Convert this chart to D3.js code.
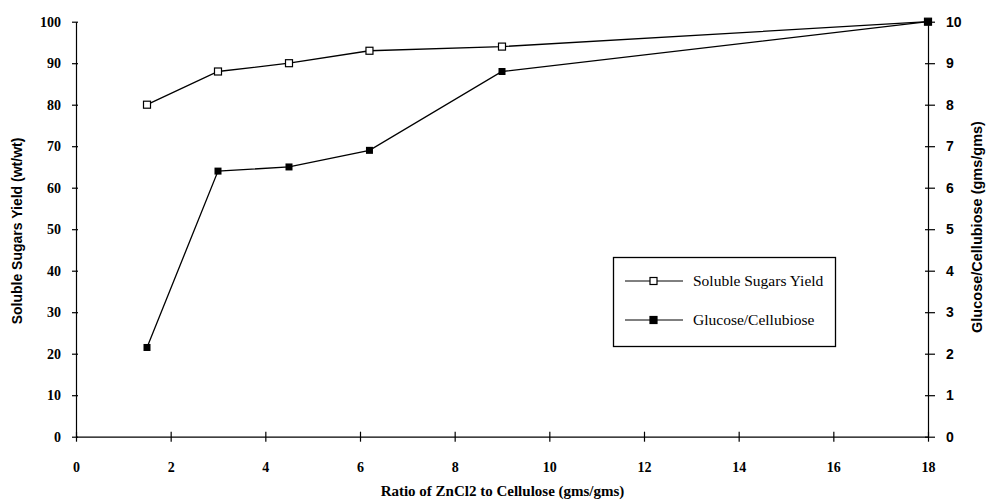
<!DOCTYPE html>
<html>
<head>
<meta charset="utf-8">
<script src="https://cdn.jsdelivr.net/npm/d3@7"></script>
<style>
  body { margin: 0; background: #fff; }
  svg { display: block; }
</style>
</head>
<body>
<div id="chart-area"></div>
<script>
// data
const ratios = [1.5, 3, 4.5, 6.2, 9, 18];
const sugarYield = [80, 88, 90, 93, 94, 100];
const glucoseRatio = [2.15, 6.4, 6.5, 6.9, 8.8, 10];
const xTicks = [0, 2, 4, 6, 8, 10, 12, 14, 16, 18];
const leftTicks = [0, 10, 20, 30, 40, 50, 60, 70, 80, 90, 100];
const rightTicks = [0, 1, 2, 3, 4, 5, 6, 7, 8, 9, 10];
const seriesNames = ["Soluble Sugars Yield", "Glucose/Cellubiose"];

const W = 986, H = 502;
const plotLeft = 76, plotRight = 928, plotTop = 21.7, plotBottom = 436.7;
const serif = "'Liberation Serif', 'DejaVu Serif', serif";
const sans = "'Liberation Sans', Arial, sans-serif";

const svg = d3.select("#chart-area")
	.append("svg")
	.attr("width", W)
	.attr("height", H);

const x = d3.scaleLinear().domain([0, 18]).range([plotLeft, plotRight]);
const yL = d3.scaleLinear().domain([0, 100]).range([plotBottom, plotTop]);
const yR = d3.scaleLinear().domain([0, 10]).range([plotBottom, plotTop]);

// x axis
const xAxis = svg.append("g")
	.attr("transform", `translate(0, ${plotBottom})`)
	.call(d3.axisBottom(x).tickValues(xTicks).tickSizeOuter(0));
xAxis.selectAll(".tick line").attr("y1", -5).attr("y2", 5);
xAxis.selectAll(".tick text")
	.attr("y", 25)
	.attr("font-family", serif)
	.attr("font-weight", "bold")
	.attr("font-size", "14px");

// left axis
const lAxis = svg.append("g")
	.attr("transform", `translate(${plotLeft}, 0)`)
	.call(d3.axisLeft(yL).tickValues(leftTicks).tickSizeOuter(0));
lAxis.selectAll(".tick line").attr("x1", -4).attr("x2", 2);
lAxis.selectAll(".tick text")
	.attr("x", -15)
	.attr("font-family", serif)
	.attr("font-weight", "bold")
	.attr("font-size", "14px");

// right axis
const rAxis = svg.append("g")
	.attr("transform", `translate(${plotRight}, 0)`)
	.call(d3.axisRight(yR).tickValues(rightTicks).tickSizeOuter(0));
rAxis.selectAll(".tick line").attr("x1", -3).attr("x2", 7);
rAxis.selectAll(".tick text")
	.attr("x", 18)
	.attr("font-family", sans)
	.attr("font-weight", "bold")
	.attr("font-size", "14px");

svg.selectAll(".domain").attr("stroke", "#000").attr("stroke-width", 1.2);
svg.selectAll(".tick line").attr("stroke", "#000").attr("stroke-width", 1.2);

// axis titles
svg.append("text")
	.attr("x", 502.5)
	.attr("y", 496)
	.attr("text-anchor", "middle")
	.attr("font-family", serif)
	.attr("font-weight", "bold")
	.attr("font-size", "15px")
	.text("Ratio of ZnCl2 to Cellulose (gms/gms)");

svg.append("text")
	.attr("transform", "translate(22, 231) rotate(-90)")
	.attr("text-anchor", "middle")
	.attr("font-family", sans)
	.attr("font-weight", "bold")
	.attr("font-size", "14px")
	.text("Soluble Sugars Yield (wt/wt)");

svg.append("text")
	.attr("transform", "translate(982, 227) rotate(-90)")
	.attr("text-anchor", "middle")
	.attr("font-family", sans)
	.attr("font-weight", "bold")
	.attr("font-size", "14.5px")
	.text("Glucose/Cellubiose (gms/gms)");

// lines
const sugarPts = ratios.map((r, i) => [x(r), yL(sugarYield[i])]);
const glucPts = ratios.map((r, i) => [x(r), yR(glucoseRatio[i])]);
const line = d3.line();

svg.append("path")
	.attr("d", line(sugarPts))
	.attr("fill", "none")
	.attr("stroke", "#000")
	.attr("stroke-width", 1.3);
svg.append("path")
	.attr("d", line(glucPts))
	.attr("fill", "none")
	.attr("stroke", "#000")
	.attr("stroke-width", 1.3);

const ms = 7;
svg.selectAll(".sugar").data(sugarPts).enter()
	.append("rect")
	.attr("x", d => d[0] - ms / 2)
	.attr("y", d => d[1] - ms / 2)
	.attr("width", ms).attr("height", ms)
	.attr("fill", "#fff")
	.attr("stroke", "#000")
	.attr("stroke-width", 1.2);
svg.selectAll(".gluc").data(glucPts).enter()
	.append("rect")
	.attr("x", d => d[0] - ms / 2)
	.attr("y", d => d[1] - ms / 2)
	.attr("width", ms).attr("height", ms)
	.attr("fill", "#000");

// legend
const lg = svg.append("g");
lg.append("rect")
	.attr("x", 613.5).attr("y", 257.5)
	.attr("width", 222).attr("height", 89)
	.attr("fill", "#fff")
	.attr("stroke", "#000")
	.attr("stroke-width", 1.3);
const rowsY = [281, 320];
seriesNames.forEach((name, i) => {
	const yy = rowsY[i];
	lg.append("line")
		.attr("x1", 625).attr("x2", 683)
		.attr("y1", yy).attr("y2", yy)
		.attr("stroke", "#000").attr("stroke-width", 1);
	lg.append("rect")
		.attr("x", 653.5 - ms / 2).attr("y", yy - ms / 2)
		.attr("width", ms).attr("height", ms)
		.attr("fill", i === 0 ? "#fff" : "#000")
		.attr("stroke", "#000").attr("stroke-width", 1.2);
	lg.append("text")
		.attr("x", 693).attr("y", yy + 5)
		.attr("font-family", serif)
		.attr("font-size", "15.5px")
		.text(name);
});
</script>
</body>
</html>
